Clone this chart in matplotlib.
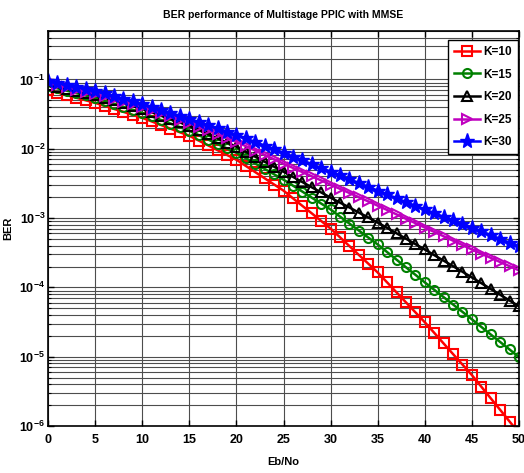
import numpy as np
import matplotlib
matplotlib.use("Agg")
import matplotlib.pyplot as plt
from matplotlib.ticker import LogLocator, FixedLocator, FuncFormatter, NullFormatter

plt.rcParams['font.family'] = ['Liberation Sans', 'DejaVu Sans']
plt.rcParams['mathtext.fontset'] = 'custom'
plt.rcParams['mathtext.rm'] = 'Liberation Sans:bold'
plt.rcParams['mathtext.bf'] = 'Liberation Sans:bold'
plt.rcParams['mathtext.default'] = 'bf'

ebno = list(range(0, 51))

ber_k10 = [0.0706, 0.0648, 0.0594, 0.0545, 0.0500, 0.0459, 0.0416, 0.0376, 0.0341, 0.0308,
           0.0279, 0.0248, 0.0220, 0.0195, 0.0173, 0.01539, 0.01312, 0.01119, 0.00954, 0.00814,
           0.00694, 0.00565, 0.00460, 0.00375, 0.00305, 0.00249, 0.00193, 0.00150, 0.00117, 9.08e-4,
           7.06e-4, 5.28e-4, 3.94e-4, 2.94e-4, 2.20e-4, 1.64e-4, 1.18e-4, 8.47e-5, 6.08e-5, 4.37e-5,
           3.14e-5, 2.21e-5, 1.55e-5, 1.09e-5, 7.70e-6, 5.42e-6, 3.69e-6, 2.51e-6, 1.71e-6, 1.16e-6,
           7.93e-7]
ber_k15 = [0.0806, 0.0745, 0.0688, 0.0635, 0.0587, 0.0542, 0.0491, 0.0444, 0.0402, 0.0364,
           0.0330, 0.0293, 0.0260, 0.0231, 0.0205, 0.0182, 0.0157, 0.0136, 0.0117, 0.0101,
           0.00876, 0.00732, 0.00612, 0.00512, 0.00428, 0.00358, 0.00294, 0.00241, 0.00197, 0.00162,
           0.00133, 0.00105, 8.33e-4, 6.61e-4, 5.24e-4, 4.16e-4, 3.23e-4, 2.51e-4, 1.95e-4, 1.52e-4,
           1.18e-4, 9.24e-5, 7.23e-5, 5.66e-5, 4.43e-5, 3.46e-5, 2.69e-5, 2.09e-5, 1.63e-5, 1.27e-5,
           9.84e-6]
ber_k20 = [0.0833, 0.0780, 0.0730, 0.0683, 0.0639, 0.0598, 0.0545, 0.0497, 0.0453, 0.0413,
           0.0376, 0.0336, 0.0300, 0.0268, 0.0240, 0.0214, 0.0187, 0.0162, 0.0141, 0.0123,
           0.0107, 0.00905, 0.00767, 0.00650, 0.00551, 0.00467, 0.00393, 0.00331, 0.00278, 0.00234,
           0.00197, 0.00167, 0.00142, 0.00120, 0.00102, 8.61e-4, 7.21e-4, 6.03e-4, 5.04e-4, 4.21e-4,
           3.52e-4, 2.92e-4, 2.43e-4, 2.02e-4, 1.68e-4, 1.39e-4, 1.15e-4, 9.48e-5, 7.83e-5, 6.46e-5,
           5.33e-5]
ber_k25 = [0.0891, 0.0828, 0.0770, 0.0716, 0.0665, 0.0619, 0.0568, 0.0521, 0.0478, 0.0438,
           0.0402, 0.0362, 0.0325, 0.0293, 0.0263, 0.0237, 0.0209, 0.0184, 0.0162, 0.0143,
           0.0126, 0.0109, 0.00942, 0.00815, 0.00704, 0.00608, 0.00529, 0.00461, 0.00401, 0.00349,
           0.00303, 0.00264, 0.00230, 0.00200, 0.00174, 0.00151, 0.00131, 0.00113, 9.77e-4, 8.45e-4,
           7.30e-4, 6.31e-4, 5.46e-4, 4.72e-4, 4.08e-4, 3.52e-4, 3.06e-4, 2.67e-4, 2.32e-4, 2.02e-4,
           1.76e-4]
ber_k30 = [0.0952, 0.0891, 0.0833, 0.0780, 0.0730, 0.0683, 0.0627, 0.0575, 0.0528, 0.0484,
           0.0444, 0.0402, 0.0364, 0.0330, 0.0298, 0.0270, 0.0243, 0.0219, 0.0197, 0.0177,
           0.0159, 0.0141, 0.0125, 0.0111, 0.00987, 0.00876, 0.00772, 0.00681, 0.00600, 0.00529,
           0.00467, 0.00412, 0.00363, 0.00320, 0.00282, 0.00249, 0.00219, 0.00193, 0.00170, 0.00150,
           0.00133, 0.00118, 0.00104, 9.27e-4, 8.22e-4, 7.30e-4, 6.44e-4, 5.68e-4, 5.00e-4, 4.41e-4,
           3.89e-4]

labels = ['K=10', 'K=15', 'K=20', 'K=25', 'K=30']
x_ticks = [0, 5, 10, 15, 20, 25, 30, 35, 40, 45, 50]
y_ticks = [1e-6, 1e-5, 1e-4, 1e-3, 1e-2, 1e-1]

series = [ber_k10, ber_k15, ber_k20, ber_k25, ber_k30]
styles = [
    dict(color='#FF0000', marker='s', ms=6.5, mfc='none', mew=1.5),
    dict(color='#008000', marker='o', ms=6.5, mfc='none', mew=1.5),
    dict(color='#000000', marker='^', ms=7, mfc='none', mew=1.5),
    dict(color='#BF00BF', marker='>', ms=7, mfc='none', mew=1.5),
    dict(color='#0000FF', marker='*', ms=11, mfc='#0000FF', mew=1.0),
]

fig = plt.figure(figsize=(5.24, 4.73), dpi=100)
ax = fig.add_axes([48/524, 1 - 426/473, (519-48)/524, (426-31)/473])

for s, lab, st in zip(series, labels, styles):
    ax.plot(ebno, s, lw=1.8, label=lab, **st)

ax.set_yscale('log')
ax.set_xlim(0, 50)
ax.set_ylim(1e-6, 0.5)
ax.xaxis.set_major_locator(FixedLocator(x_ticks))
ax.yaxis.set_major_locator(FixedLocator(y_ticks))
ax.yaxis.set_minor_locator(LogLocator(base=10, subs=np.arange(2, 10), numticks=20))
ax.yaxis.set_minor_formatter(NullFormatter())
ax.yaxis.set_major_formatter(FuncFormatter(lambda v, p: r'$\mathbf{10^{%d}}$' % int(round(np.log10(v)))))

ax.grid(True, which='major', axis='both', color='0.3', lw=0.8)
ax.grid(True, which='minor', axis='y', color='0.3', lw=0.8)
ax.set_axisbelow(True)

ax.tick_params(which='both', direction='in', top=True, right=True, labelsize=9)
ax.tick_params(axis='x', pad=6)
ax.tick_params(axis='y', pad=2)
ax.tick_params(which='major', length=4, width=1)
ax.tick_params(which='minor', length=2, width=0.8)
for lbl in ax.get_xticklabels():
    lbl.set_fontweight('bold')
for sp in ax.spines.values():
    sp.set_linewidth(1.2)

ax.set_title('BER performance of Multistage PPIC with MMSE', fontsize=7.5, fontweight='bold', pad=9)
ax.set_xlabel('Eb/No', fontsize=8, fontweight='bold', labelpad=8)
ax.set_ylabel('BER', fontsize=8, fontweight='bold', labelpad=4)

leg = ax.legend(loc='upper right', bbox_to_anchor=(1 - 1/471, 1 - 9/395), numpoints=1,
                handlelength=2.2, fancybox=False,
                framealpha=1, edgecolor='black', prop=dict(weight='bold', size=8.5),
                borderpad=0.5, labelspacing=0.9, handletextpad=0.3, borderaxespad=0)
leg.get_frame().set_linewidth(1.0)

fig.savefig('out.png', dpi=100)
